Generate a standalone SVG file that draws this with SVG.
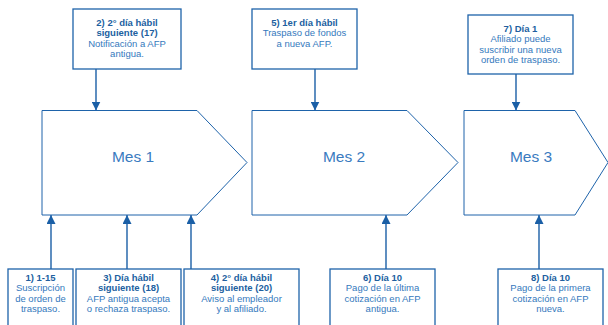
<svg xmlns="http://www.w3.org/2000/svg" width="608" height="325" viewBox="0 0 608 325">
<defs>
<style>
.box{fill:#fff;stroke:#1e63aa;stroke-width:1.3}
.pent{fill:#fff;stroke:#1e63aa;stroke-width:1}
.ln{stroke:#1a5fa6;stroke-width:1.4;fill:none}
text{font-family:"Liberation Sans",Arial,sans-serif;text-anchor:middle}
.t{font-size:9.5px;fill:#3579bd}
.h{font-size:9.5px;font-weight:bold;fill:#215f9f}
.m{font-size:15.5px;fill:#3a7bbf}
</style>
<marker id="ah" viewBox="0 0 10 10" refX="10" refY="5" markerWidth="9" markerHeight="9" markerUnits="userSpaceOnUse" orient="auto">
<path d="M0,0 L10,5 L0,10 Z" fill="#1a5fa6"/>
</marker>
</defs>
<rect width="608" height="325" fill="#fff"/>

<g id="connectors">
<line class="ln" x1="96" y1="69" x2="96" y2="110.5" marker-end="url(#ah)"/>
<line class="ln" x1="315" y1="69" x2="315" y2="110.5" marker-end="url(#ah)"/>
<line class="ln" x1="516" y1="74" x2="516" y2="110.5" marker-end="url(#ah)"/>
<line class="ln" x1="51" y1="269" x2="51" y2="215" marker-end="url(#ah)"/>
<line class="ln" x1="127" y1="269" x2="127" y2="215" marker-end="url(#ah)"/>
<line class="ln" x1="191" y1="269" x2="191" y2="215" marker-end="url(#ah)"/>
<line class="ln" x1="386" y1="269" x2="386" y2="215" marker-end="url(#ah)"/>
<line class="ln" x1="539" y1="269" x2="539" y2="215" marker-end="url(#ah)"/>
</g>

<g id="mes1">
<path class="pent" d="M42,110.5 H197 L247,162.5 L197,215 H42 Z"/>
<text class="m" x="133" y="161.5">Mes 1</text>
</g>
<g id="mes2">
<path class="pent" d="M252,110.5 H407 L458,162.5 L407,215 H252 Z"/>
<text class="m" x="344" y="161.5">Mes 2</text>
</g>
<g id="mes3">
<path class="pent" d="M464,110.5 H575 L608,162.5 L575,215 H464 Z"/>
<text class="m" x="531" y="161.5">Mes 3</text>
</g>

<g id="n2">
<rect class="box" x="73" y="9" width="108" height="60"/>
<text class="h" x="127" y="26">2) 2° día hábil</text>
<text class="h" x="127" y="36.3">siguiente (17)</text>
<text class="t" x="127" y="46.6">Notificación a AFP</text>
<text class="t" x="127" y="56.9">antigua.</text>
</g>
<g id="n5">
<rect class="box" x="252" y="9" width="105" height="60"/>
<text class="h" x="304.5" y="26">5) 1er día hábil</text>
<text class="t" x="304.5" y="36.3">Traspaso de fondos</text>
<text class="t" x="304.5" y="46.6">a nueva AFP.</text>
</g>
<g id="n7">
<rect class="box" x="468" y="15" width="105" height="59"/>
<text class="h" x="520.5" y="32">7) Día 1</text>
<text class="t" x="520.5" y="42.3">Afiliado puede</text>
<text class="t" x="520.5" y="52.6">suscribir una nueva</text>
<text class="t" x="520.5" y="62.9">orden de traspaso.</text>
</g>

<g id="n1">
<rect class="box" x="8" y="269" width="65" height="70"/>
<text class="h" x="40.5" y="281">1) 1-15</text>
<text class="t" x="40.5" y="291.3">Suscripción</text>
<text class="t" x="40.5" y="301.6">de orden de</text>
<text class="t" x="40.5" y="311.9">traspaso.</text>
</g>
<g id="n3">
<rect class="box" x="76" y="269" width="105" height="70"/>
<text class="h" x="128.5" y="281">3) Día hábil</text>
<text class="h" x="128.5" y="291.3">siguiente (18)</text>
<text class="t" x="128.5" y="301.6">AFP antigua acepta</text>
<text class="t" x="128.5" y="311.9">o rechaza traspaso.</text>
</g>
<g id="n4">
<rect class="box" x="184" y="269" width="115" height="70"/>
<text class="h" x="241.5" y="281">4) 2° día hábil</text>
<text class="h" x="241.5" y="291.3">siguiente (20)</text>
<text class="t" x="241.5" y="301.6">Aviso al empleador</text>
<text class="t" x="241.5" y="311.9">y al afiliado.</text>
</g>
<g id="n6">
<rect class="box" x="330" y="269" width="105" height="70"/>
<text class="h" x="382.5" y="281">6) Día 10</text>
<text class="t" x="382.5" y="291.3">Pago de la última</text>
<text class="t" x="382.5" y="301.6">cotización en AFP</text>
<text class="t" x="382.5" y="311.9">antigua.</text>
</g>
<g id="n8">
<rect class="box" x="498" y="269" width="105" height="70"/>
<text class="h" x="550.5" y="281">8) Día 10</text>
<text class="t" x="550.5" y="291.3">Pago de la primera</text>
<text class="t" x="550.5" y="301.6">cotización en AFP</text>
<text class="t" x="550.5" y="311.9">nueva.</text>
</g>
</svg>
